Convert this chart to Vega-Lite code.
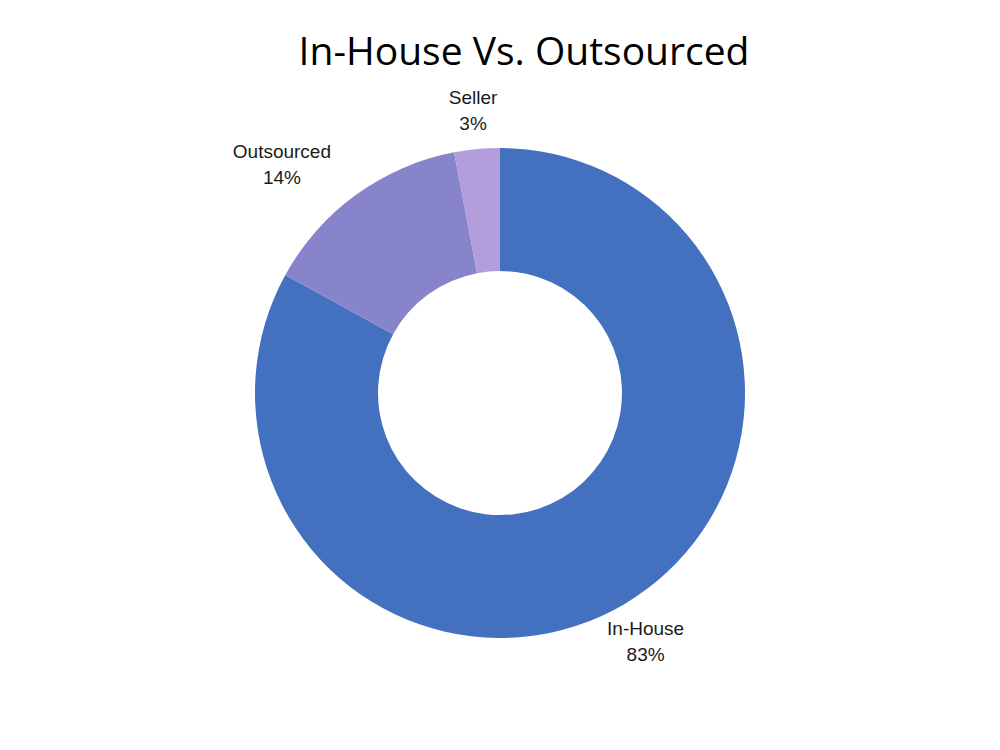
{
  "$schema": "https://vega.github.io/schema/vega-lite/v6.json",
  "width": 1000,
  "height": 714,
  "autosize": "none",
  "padding": {"top": 36, "left": 0, "right": 0, "bottom": 0},
  "background": "white",
  "title": {
    "text": "In-House Vs. Outsourced",
    "font": "Open Sans",
    "fontSize": 39,
    "fontWeight": "normal",
    "color": "#000000",
    "anchor": "middle",
    "dx": 24,
    "offset": -37
  },
  "data": {
    "values": [
      {"category": "In-House", "value": 83, "order": 1},
      {"category": "Outsourced", "value": 14, "order": 2},
      {"category": "Seller", "value": 3, "order": 3}
    ]
  },
  "transform": [
    {"calculate": "datum.category + '\\n' + datum.value + '%'", "as": "label"}
  ],
  "encoding": {
    "theta": {"field": "value", "type": "quantitative", "stack": true},
    "order": {"field": "order", "type": "quantitative"},
    "color": {
      "field": "category",
      "type": "nominal",
      "scale": {
        "domain": ["In-House", "Outsourced", "Seller"],
        "range": ["#4470C0", "#8884CC", "#B39DDA"]
      },
      "legend": null
    }
  },
  "layer": [
    {"mark": {"type": "arc", "innerRadius": 122, "outerRadius": 245}},
    {
      "mark": {"type": "text", "radius": 286, "dy": -10, "fontSize": 19, "font": "Liberation Sans", "lineBreak": "\n", "lineHeight": 26, "baseline": "middle", "align": "center"},
      "encoding": {
        "color": {"value": "#1a1a1a"},
        "text": {"condition": {"test": "datum.category === 'Outsourced'", "value": ""}, "field": "label"}
      }
    },
    {
      "mark": {"type": "text", "radius": 286, "dx": -50, "dy": -10, "fontSize": 19, "font": "Liberation Sans", "lineBreak": "\n", "lineHeight": 26, "baseline": "middle", "align": "center"},
      "encoding": {
        "color": {"value": "#1a1a1a"},
        "text": {"condition": {"test": "datum.category !== 'Outsourced'", "value": ""}, "field": "label"}
      }
    }
  ],
  "config": {"view": {"stroke": null}}
}
